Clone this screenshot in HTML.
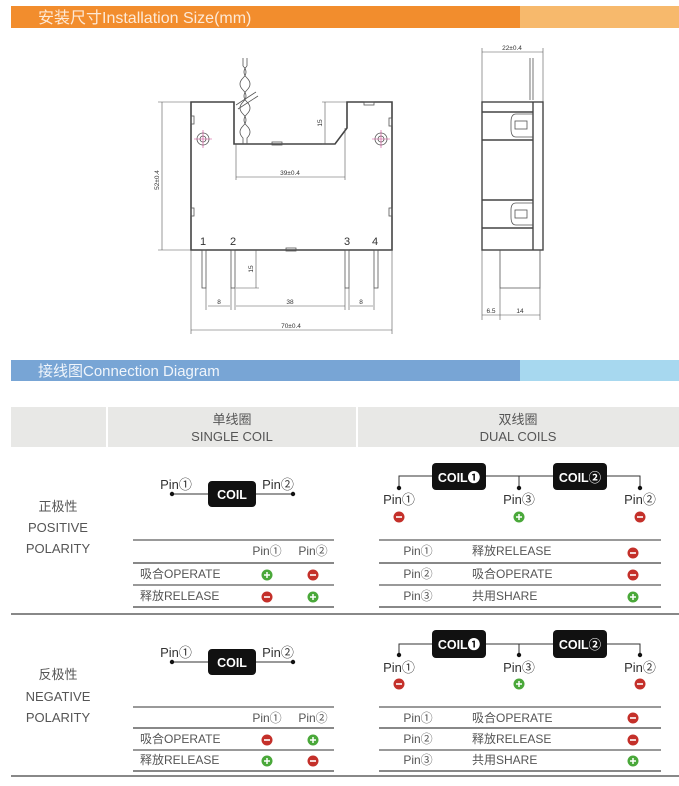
<!DOCTYPE html>
<html><head><meta charset="utf-8"><style>
html,body{margin:0;padding:0;background:#fff;}
svg{display:block;font-family:"Liberation Sans","Noto Sans CJK SC",sans-serif;}
</style></head><body>
<svg width="679" height="786" viewBox="0 0 679 786" xmlns="http://www.w3.org/2000/svg">
<defs>
<g id="plus"><circle r="5.5" fill="#4aa83a"/><path d="M-3 0H3M0 -3V3" stroke="#fff" stroke-width="1.5"/></g>
<g id="minus"><circle r="5.5" fill="#c4302a"/><path d="M-3 0H3" stroke="#fff" stroke-width="1.6"/></g>
</defs>
<rect x="11" y="6" width="509" height="22" fill="#f28d2d"/>
<rect x="520" y="6" width="159" height="22" fill="#f7b96c"/>
<text x="38" y="23" font-size="16" fill="#fde9d6">安装尺寸Installation Size(mm)</text>

<g fill="none" stroke="#444" stroke-width="1.6">
<path d="M191 102H234V144H335L347 128V102H392V250H191Z"/>
</g>
<g fill="none" stroke="#555" stroke-width="0.8">
<rect x="202" y="250" width="4" height="38"/><rect x="231" y="250" width="4" height="38"/>
<rect x="345" y="250" width="4" height="38"/><rect x="374" y="250" width="4" height="38"/>
<rect x="191" y="116" width="3" height="8"/><rect x="191" y="208" width="3" height="8"/>
<rect x="389" y="118" width="3" height="8"/><rect x="389" y="208" width="3" height="8"/>
<rect x="272" y="142" width="10" height="3"/><rect x="286" y="248" width="10" height="3"/><rect x="364" y="102" width="10" height="3"/>
<circle cx="203" cy="139" r="6"/><circle cx="203" cy="139" r="3"/>
<circle cx="381" cy="139" r="6"/><circle cx="381" cy="139" r="3"/>
</g>
<g stroke="#d04090" stroke-width="0.6">
<path d="M194 139H212M203 130V148M372 139H390M381 130V148"/>
</g>
<g fill="none" stroke="#555" stroke-width="0.8">
<path d="M243 58V66 M247 58V66"/>
<path d="M243 66 Q249 72 243 78 Q237 84 243 90 Q249 96 243 102 Q237 108 243 114 Q249 120 243 126 Q237 132 243 138 L243 144"/>
<path d="M247 66 Q241 72 247 78 Q253 84 247 90 Q241 96 247 102 Q253 108 247 114 Q241 120 247 126 Q253 132 247 138 L247 144"/>
<path d="M236 105L256 92M238 109L258 96"/>
</g>
<g stroke="#555" stroke-width="0.6" fill="none">
<path d="M162 102V250M158 102H191M158 250H191"/>
<path d="M325 102V144M322 102H347M322 144H335"/>
<path d="M236 177H345M236 144V180M345 128V180"/>
<path d="M256 250V288M236 288H259"/>
<path d="M208 306H230M236 306H345M350 306H373M206 288V310M231 288V310M235 288V310M345 288V310M349 288V310M374 288V310"/>
<path d="M191 330H392M191 250V334M392 250V334"/>
<path d="M482 52H543M482 48V102M543 48V102"/>
<path d="M482 315H500M500 315H540M482 250V320M500 288V320M540 288V320"/>
</g>
<g font-size="6.5" fill="#333">
<text x="159" y="180" transform="rotate(-90 159 180)" text-anchor="middle">52±0.4</text>
<text x="322" y="123" transform="rotate(-90 322 123)" text-anchor="middle">15</text>
<text x="290" y="175" text-anchor="middle">39±0.4</text>
<text x="253" y="269" transform="rotate(-90 253 269)" text-anchor="middle">15</text>
<text x="219" y="304" text-anchor="middle">8</text>
<text x="290" y="304" text-anchor="middle">38</text>
<text x="361" y="304" text-anchor="middle">8</text>
<text x="291" y="328" text-anchor="middle">70±0.4</text>
<text x="512" y="50" text-anchor="middle">22±0.4</text>
<text x="491" y="313" text-anchor="middle">6.5</text>
<text x="520" y="313" text-anchor="middle">14</text>
</g>
<g font-size="11" fill="#333" text-anchor="middle">
<text x="203" y="245">1</text><text x="233" y="245">2</text><text x="347" y="245">3</text><text x="375" y="245">4</text>
</g>
<g fill="none" stroke="#444" stroke-width="1.4">
<rect x="482" y="102" width="61" height="148"/>
<path d="M533 102V250M482 112H533M482 140H533M482 200H533M482 228H533"/>
</g>
<g fill="none" stroke="#555" stroke-width="0.8">
<path d="M533 114H516Q511 114 511 122V129Q511 137 516 137H533"/>
<path d="M533 203H516Q511 203 511 210V217Q511 225 516 225H533"/>
<rect x="515" y="121" width="12" height="8"/><rect x="515" y="210" width="12" height="8"/>
<path d="M500 250V288H540V250"/>
<path d="M530 58V100M533 58V100"/>
</g>

<rect x="11" y="360" width="509" height="21" fill="#78a5d5"/>
<rect x="520" y="360" width="159" height="21" fill="#a7d8ef"/>
<text x="38" y="376" font-size="15" fill="#f0f5fb">接线图Connection Diagram</text>

<rect x="11" y="407" width="95" height="40" fill="#e8e8e6"/>
<rect x="108" y="407" width="248" height="40" fill="#e8e8e6"/>
<rect x="358" y="407" width="321" height="40" fill="#e8e8e6"/>
<g font-size="13" fill="#555" text-anchor="middle">
<text x="232" y="424">单线圈</text><text x="232" y="441">SINGLE COIL</text>
<text x="518" y="424">双线圈</text><text x="518" y="441">DUAL COILS</text>
<text x="58" y="511">正极性</text><text x="58" y="532">POSITIVE</text><text x="58" y="553">POLARITY</text>
<text x="58" y="679">反极性</text><text x="58" y="701">NEGATIVE</text><text x="58" y="722">POLARITY</text>
</g>
<rect x="11" y="613" width="668" height="2" fill="#888"/>
<rect x="11" y="775" width="668" height="2" fill="#888"/>

<g>
<path d="M172 494H293" stroke="#333" stroke-width="1"/>
<circle cx="172" cy="494" r="2.2" fill="#111"/><circle cx="293" cy="494" r="2.2" fill="#111"/>
<rect x="208" y="481" width="48" height="26" rx="4" fill="#111"/>
<text x="232" y="499" font-size="12.5" font-weight="bold" fill="#fff" text-anchor="middle">COIL</text>
<text x="176" y="489" font-size="13" fill="#333" text-anchor="middle">Pin①</text>
<text x="278" y="489" font-size="13" fill="#333" text-anchor="middle">Pin②</text>
</g>
<g stroke-width="1">
<path d="M133 540H334M133 585H334" stroke="#333"/>
<path d="M133 563H334M133 607H334" stroke="#888" stroke-width="2"/>
</g>
<g font-size="12" fill="#555">
<text x="267" y="555" text-anchor="middle">Pin①</text><text x="313" y="555" text-anchor="middle">Pin②</text>
<text x="140" y="578">吸合OPERATE</text><text x="140" y="600">释放RELEASE</text>
</g>
<use href="#plus" x="267" y="575"/><use href="#minus" x="313" y="575"/>
<use href="#minus" x="267" y="597"/><use href="#plus" x="313" y="597"/>

<g>
<path d="M399 488V476H640V488M519 476V488" stroke="#333" fill="none"/>
<circle cx="399" cy="488" r="2.2" fill="#111"/><circle cx="519" cy="488" r="2.2" fill="#111"/><circle cx="640" cy="488" r="2.2" fill="#111"/>
<rect x="432" y="463" width="54" height="27" rx="4" fill="#111"/>
<rect x="553" y="463" width="54" height="27" rx="4" fill="#111"/>
<text x="459" y="482" font-size="12.5" font-weight="bold" fill="#fff" text-anchor="middle">COIL❶</text>
<text x="580" y="482" font-size="12.5" font-weight="bold" fill="#fff" text-anchor="middle">COIL②</text>
<text x="399" y="504" font-size="13" fill="#333" text-anchor="middle">Pin①</text>
<text x="519" y="504" font-size="13" fill="#333" text-anchor="middle">Pin③</text>
<text x="640" y="504" font-size="13" fill="#333" text-anchor="middle">Pin②</text>
</g>
<use href="#minus" x="399" y="517"/><use href="#plus" x="519" y="517"/><use href="#minus" x="640" y="517"/>
<g>
<path d="M379 540H661M379 585H661" stroke="#333"/>
<path d="M379 563H661M379 607H661" stroke="#888" stroke-width="2"/>
</g>
<g font-size="12" fill="#555">
<text x="418" y="555" text-anchor="middle">Pin①</text><text x="418" y="578" text-anchor="middle">Pin②</text><text x="418" y="600" text-anchor="middle">Pin③</text>
<text x="472" y="555">释放RELEASE</text><text x="472" y="578">吸合OPERATE</text><text x="472" y="600">共用SHARE</text>
</g>
<use href="#minus" x="633" y="553"/><use href="#minus" x="633" y="575"/><use href="#plus" x="633" y="597"/>

<g>
<path d="M172 662H293" stroke="#333" stroke-width="1"/>
<circle cx="172" cy="662" r="2.2" fill="#111"/><circle cx="293" cy="662" r="2.2" fill="#111"/>
<rect x="208" y="649" width="48" height="26" rx="4" fill="#111"/>
<text x="232" y="667" font-size="12.5" font-weight="bold" fill="#fff" text-anchor="middle">COIL</text>
<text x="176" y="657" font-size="13" fill="#333" text-anchor="middle">Pin①</text>
<text x="278" y="657" font-size="13" fill="#333" text-anchor="middle">Pin②</text>
</g>
<g>
<path d="M133 707H334M133 750H334" stroke="#333"/>
<path d="M133 728H334M133 771H334" stroke="#888" stroke-width="2"/>
</g>
<g font-size="12" fill="#555">
<text x="267" y="722" text-anchor="middle">Pin①</text><text x="313" y="722" text-anchor="middle">Pin②</text>
<text x="140" y="743">吸合OPERATE</text><text x="140" y="764">释放RELEASE</text>
</g>
<use href="#minus" x="267" y="740"/><use href="#plus" x="313" y="740"/>
<use href="#plus" x="267" y="761"/><use href="#minus" x="313" y="761"/>

<g>
<path d="M399 655V644H640V655M519 644V655" stroke="#333" fill="none"/>
<circle cx="399" cy="655" r="2.2" fill="#111"/><circle cx="519" cy="655" r="2.2" fill="#111"/><circle cx="640" cy="655" r="2.2" fill="#111"/>
<rect x="432" y="630" width="54" height="28" rx="4" fill="#111"/>
<rect x="553" y="630" width="54" height="28" rx="4" fill="#111"/>
<text x="459" y="649" font-size="12.5" font-weight="bold" fill="#fff" text-anchor="middle">COIL❶</text>
<text x="580" y="649" font-size="12.5" font-weight="bold" fill="#fff" text-anchor="middle">COIL②</text>
<text x="399" y="672" font-size="13" fill="#333" text-anchor="middle">Pin①</text>
<text x="519" y="672" font-size="13" fill="#333" text-anchor="middle">Pin③</text>
<text x="640" y="672" font-size="13" fill="#333" text-anchor="middle">Pin②</text>
</g>
<use href="#minus" x="399" y="684"/><use href="#plus" x="519" y="684"/><use href="#minus" x="640" y="684"/>
<g>
<path d="M379 707H661M379 750H661" stroke="#333"/>
<path d="M379 728H661M379 771H661" stroke="#888" stroke-width="2"/>
</g>
<g font-size="12" fill="#555">
<text x="418" y="722" text-anchor="middle">Pin①</text><text x="418" y="743" text-anchor="middle">Pin②</text><text x="418" y="764" text-anchor="middle">Pin③</text>
<text x="472" y="722">吸合OPERATE</text><text x="472" y="743">释放RELEASE</text><text x="472" y="764">共用SHARE</text>
</g>
<use href="#minus" x="633" y="718"/><use href="#minus" x="633" y="740"/><use href="#plus" x="633" y="761"/>
</svg>
</body></html>
